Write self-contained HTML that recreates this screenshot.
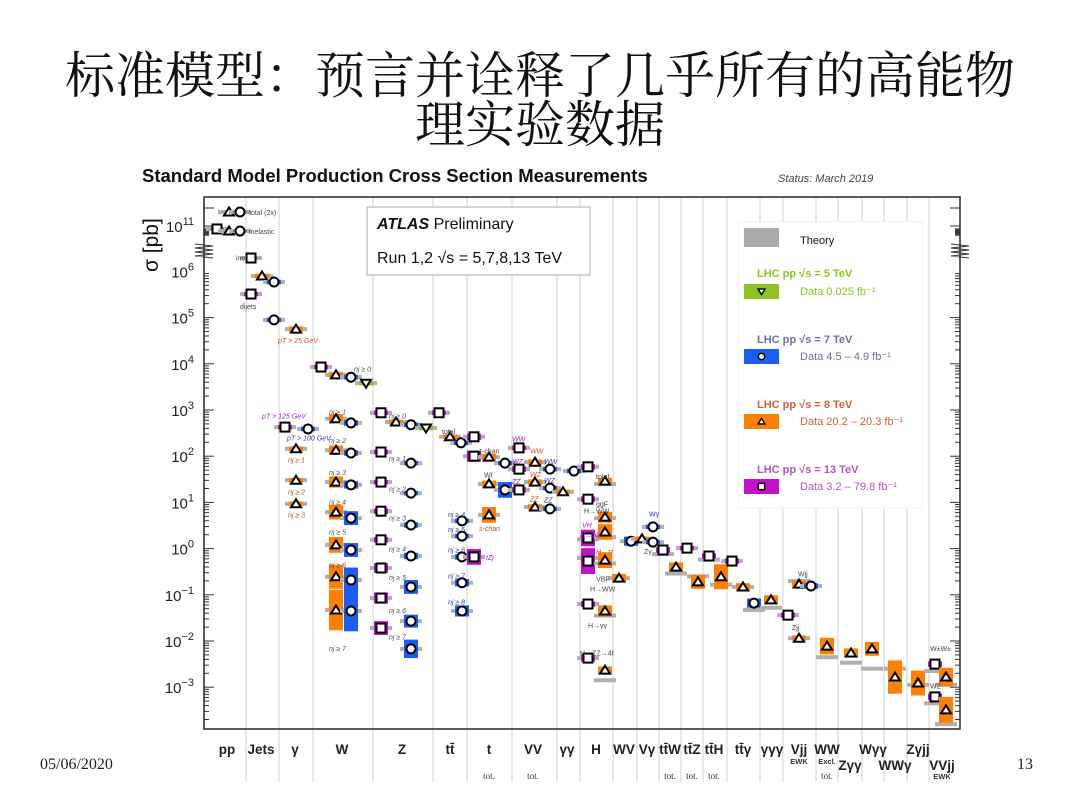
<!DOCTYPE html>
<html><head><meta charset="utf-8">
<style>
body{margin:0;background:#fff;}
#wrap{position:relative;width:1080px;height:803px;overflow:hidden;background:#fff;}
.title{position:absolute;left:0;width:1080px;text-align:center;font-family:"Liberation Serif","Noto Serif CJK SC",serif;font-size:50px;color:#111;line-height:52px;}
.foot{position:absolute;font-family:"Liberation Serif",serif;font-size:16px;color:#222;}
</style></head>
<body><div id="wrap">
<div class="title" style="top:50px">标准模型：预言并诠释了几乎所有的高能物</div>
<div class="title" style="top:99px">理实验数据</div>
<div class="foot" style="left:40px;top:756px">05/06/2020</div>
<div class="foot" style="left:1017px;top:756px">13</div>
<svg id="chart" width="1080" height="803" style="position:absolute;left:0;top:0" font-family="Liberation Sans, sans-serif"></svg>
</div>
<script>
// categories and boundaries (x in axis units = px from left axis)
const catNames=["pp","Jets","γ","W","Z","tt̄","t","VV","γγ","H","WV","Vγ","tt̄W","tt̄Z","tt̄H","tt̄γ","γγγ","Vjj","WW","Zγγ","Wγγ","WWγ","Zγjj","VVjj"];
const catLabelX=[23,57,91,138,198,246,285,329,363,392,420,443,466,488,510,539,568,595,623,646,669,691,714,738];
const catLabelRow=[0,0,0,0,0,0,0,0,0,0,0,0,0,0,0,0,0,0,0,1,0,1,0,1];
const catSub=["","","","","","","tot.","tot.","","","","","tot.","tot.","tot.","","","EWK","Excl.","","","","","EWK"];
const catBounds=[42,75,109,169,229,263,308,353,376,409,433,455,477,499,523,556,579,612,634,658,680,703,725];
const yTicks=[-3,-2,-1,0,1,2,3,4,5,6,11];
// points: [x, log10 sigma, type (v=5,c=7,t=8,s=13 TeV), err (log), theory (log)]
const points=[
[13,10.67,'s',0.05,10.67],[25,10.44,'t',0.05,10.44],[36,10.44,'c',0.05,10.44],[25,12.56,'t',0.05,12.56],[36,12.56,'c',0.05,12.56],
[47,7.44,'s',0.05,7.44],[58,5.90,'t',0.05,5.90],[70,5.77,'c',0.05,5.77],[47,5.51,'s',0.05,5.51],[70,4.95,'c',0.05,4.95],
[92,4.75,'t',0.06,4.75],[81,2.63,'s',0.05,2.63],[104,2.59,'c',0.05,2.59],[92,2.16,'t',0.05,2.16],[92,1.48,'t',0.05,1.48],[92,0.97,'t',0.05,0.97],
[117,3.93,'s',0.05,3.93],[132,3.76,'t',0.06,3.76],[147,3.71,'c',0.05,3.71],[162,3.58,'v',0.05,3.58],
[132,2.81,'t',0.1,2.81],[147,2.72,'c',0.06,2.72],[132,2.13,'t',0.1,2.13],[147,2.07,'c',0.06,2.07],
[132,1.44,'t',0.12,1.44],[147,1.38,'c',0.08,1.38],[132,0.79,'t',0.16,0.79],[147,0.66,'c',0.15,0.66],
[132,0.08,'t',0.17,0.08],[147,-0.03,'c',0.15,-0.03],[132,-0.61,'t',0.26,-0.61],[147,-0.68,'c',0.27,-0.68],
[132,-1.33,'t',0.44,-1.33],[147,-1.35,'c',0.44,-1.35],
[177,2.94,'s',0.05,2.94],[192,2.74,'t',0.05,2.74],[207,2.68,'c',0.05,2.68],[222,2.61,'v',0.05,2.61],
[177,2.09,'s',0.05,2.09],[207,1.85,'c',0.05,1.85],[177,1.44,'s',0.05,1.44],[207,1.20,'c',0.05,1.20],
[177,0.81,'s',0.06,0.81],[207,0.51,'c',0.06,0.51],[177,0.19,'s',0.06,0.19],[207,-0.16,'c',0.07,-0.16],
[177,-0.42,'s',0.1,-0.42],[207,-0.83,'c',0.15,-0.83],[177,-1.07,'s',0.12,-1.07],[207,-1.57,'c',0.14,-1.57],
[177,-1.72,'s',0.15,-1.72],[207,-2.17,'c',0.2,-2.17],
[235,2.94,'s',0.05,2.94],[246,2.42,'t',0.05,2.42],[257,2.29,'c',0.05,2.29],
[258,0.60,'c',0.05,0.60],[258,0.27,'c',0.05,0.27],[258,-0.18,'c',0.06,-0.18],[258,-0.74,'c',0.08,-0.74],[258,-1.35,'c',0.12,-1.35],
[270,2.42,'s',0.07,2.42],[270,2.00,'s',0.12,2.00],[285,1.98,'t',0.07,1.98],[301,1.85,'c',0.05,1.85],
[285,1.40,'t',0.07,1.40],[301,1.27,'c',0.17,1.27],[285,0.73,'t',0.17,0.73],[270,-0.18,'s',0.17,-0.18],
[315,2.18,'s',0.05,2.18],[315,1.72,'s',0.06,1.72],[315,1.27,'s',0.06,1.27],
[331,1.87,'t',0.06,1.87],[346,1.72,'c',0.05,1.72],[331,1.44,'t',0.06,1.44],[346,1.31,'c',0.05,1.31],[331,0.90,'t',0.06,0.90],[346,0.86,'c',0.05,0.86],
[359,1.23,'t',0.05,1.23],[370,1.68,'c',0.05,1.68],
[384,1.77,'s',0.06,1.77],[384,1.07,'s',0.06,1.07],[384,0.23,'s',0.18,0.20],[384,-0.27,'s',0.28,-0.20],[384,-1.20,'s',0.06,-1.20],[384,-2.37,'s',0.08,-2.37],
[401,1.46,'t',0.07,1.40],[401,0.68,'t',0.12,0.66],[401,0.36,'t',0.17,0.25],[401,-0.25,'t',0.17,-0.32],[401,-1.35,'t',0.12,-1.45],[401,-2.63,'t',0.08,-2.85],[415,-0.64,'t',0.09,-0.64],
[427,0.16,'c',0.1,0.16],[438,0.21,'t',0.05,0.21],[449,0.47,'c',0.05,0.47],[449,0.14,'c',0.05,0.14],
[459,-0.03,'s',0.06,-0.12],[472,-0.40,'t',0.1,-0.54],
[483,0.01,'s',0.05,0.01],[494,-0.72,'t',0.15,-0.60],
[505,-0.16,'s',0.06,-0.24],[517,-0.61,'t',0.27,-0.78],
[528,-0.27,'s',0.06,-0.27],[539,-0.83,'t',0.08,-0.83],
[550,-1.18,'c',0.1,-1.33],[567,-1.11,'t',0.1,-1.28],
[584,-1.44,'s',0.06,-1.44],[595,-1.94,'t',0.06,-1.94],[595,-0.77,'t',0.08,-0.70],[607,-0.81,'c',0.06,-0.81],
[623,-2.11,'t',0.18,-2.35],[647,-2.26,'t',0.1,-2.47],[668,-2.17,'t',0.15,-2.60],
[691,-2.78,'t',0.36,-2.60],[714,-2.91,'t',0.27,-2.95],
[731,-2.50,'s',0.06,-2.65],[731,-3.21,'s',0.07,-3.35],[742,-2.78,'t',0.2,-2.95],[742,-3.49,'t',0.28,-3.80]
];
// annotation labels [x, log10 position, text, color]
const notes=[
[45,12.56,'total (2x)','#444'],[45,10.44,'inelastic','#444'],[32,6.3,'incl','#444'],[36,5.25,'dijets','#444'],
[74,4.52,'pT > 25 GeV','#d24a2a'],[58,2.88,'pT > 125 GeV','#a020c0'],[83,2.40,'pT > 100 GeV','#3a3aa0'],
[84,1.93,'nj ≥ 1','#d24a2a'],[84,1.24,'nj ≥ 2','#d24a2a'],[84,0.74,'nj ≥ 3','#d24a2a'],
[150,3.90,'nj ≥ 0','#555'],[125,2.97,'nj ≥ 1','#555'],[125,2.35,'nj ≥ 2','#555'],[125,1.66,'nj ≥ 3','#555'],[125,1.02,'nj ≥ 4','#555'],[125,0.37,'nj ≥ 5','#555'],[125,-0.34,'nj ≥ 6','#555'],[125,-2.15,'nj ≥ 7','#555'],
[185,2.88,'nj ≥ 0','#555'],[185,1.96,'nj ≥ 1','#555'],[185,1.30,'nj ≥ 2','#555'],[185,0.67,'nj ≥ 3','#555'],[185,0.0,'nj ≥ 4','#555'],[185,-0.62,'nj ≥ 5','#555'],[185,-1.33,'nj ≥ 6','#555'],[185,-1.90,'nj ≥ 7','#555'],
[238,2.55,'total','#444'],[244,0.75,'nj ≥ 4','#3a3aa0'],[244,0.42,'nj ≥ 5','#3a3aa0'],[244,-0.02,'nj ≥ 6','#3a3aa0'],[244,-0.58,'nj ≥ 7','#3a3aa0'],[244,-1.15,'nj ≥ 8','#3a3aa0'],
[276,2.12,'t-chan','#444'],[280,1.60,'Wt','#444'],[275,0.45,'s-chan','#d24a2a'],[282,-0.18,'tZj','#a020c0'],
[308,2.38,'WW','#a020c0'],[308,1.90,'WZ','#a020c0'],[308,1.46,'ZZ','#a020c0'],[326,2.12,'WW','#d24a2a'],[326,1.62,'WZ','#d24a2a'],[326,1.08,'ZZ','#d24a2a'],[340,1.90,'WW','#3a3aa0'],[340,1.48,'WZ','#3a3aa0'],[340,1.06,'ZZ','#3a3aa0'],
[392,1.57,'total','#444'],[392,0.98,'ggF','#444'],[380,0.82,'H→WW','#444'],[378,0.52,'VH','#a020c0'],[376,0.31,'H→bb','#a020c0'],[392,-0.05,'H→ττ','#d24a2a'],[392,-0.65,'VBF','#444'],[386,-0.86,'H→WW','#444'],[384,-1.65,'H→γγ','#444'],[376,-2.25,'H→ZZ→4ℓ','#444'],
[445,0.76,'Wγ','#3a3aa0'],[440,-0.05,'Zγ','#444'],[594,-0.54,'Wjj','#444'],[588,-1.70,'Zjj','#444'],[726,-2.15,'W±W±','#444'],[726,-2.96,'WZ','#444']
];
const NS='http://www.w3.org/2000/svg';
const svg=document.getElementById('chart');
const L=204,R=960,T=197,B=729;
function xS(u){return L+u;}
function yS(lg){return lg>6.3? 271-(lg-6)*9 : 410-46.2*(lg-3);}
function mk(tag,attrs,parent){const e=document.createElementNS(NS,tag);for(const k in attrs)e.setAttribute(k,attrs[k]);(parent||svg).appendChild(e);return e;}
function txt(x,y,s,attrs){const e=mk('text',Object.assign({x:x,y:y},attrs||{}));e.textContent=s;return e;}

let t;
t=txt(142,182,'Standard Model Production Cross Section Measurements',{'font-size':18.5,'font-weight':'bold',fill:'#111'});

t=txt(778,182,'Status: March 2019',{'font-size':11,'font-style':'italic',fill:'#444'});


catBounds.forEach(b=>{const l=mk('line',{x1:xS(b),x2:xS(b),y1:T,y2:782,stroke:'#d8d8d8','stroke-width':1.2});
});
const fr=mk('rect',{x:L,y:T,width:R-L,height:B-T,fill:'none',stroke:'#333','stroke-width':1.6});

const tg=mk('g',{stroke:'#333','stroke-width':1});

for(let d=-4;d<6;d++){for(let m=1;m<10;m++){const y=yS(d+Math.log10(m));if(y<T||y>B)continue;const len=m===1?10:5;
mk('line',{x1:L,x2:L+len,y1:y,y2:y},tg);mk('line',{x1:R,x2:R-len,y1:y,y2:y},tg);}}
[208,226].forEach(y=>{mk('line',{x1:L,x2:L+10,y1:y,y2:y},tg);mk('line',{x1:R,x2:R-10,y1:y,y2:y},tg);});
for(let m=2;m<10;m++){const y=226+9-9*Math.log10(m)*0-m*0.9;mk('line',{x1:L,x2:L+5,y1:y+2,y2:y+2},tg);mk('line',{x1:R,x2:R-5,y1:y+2,y2:y+2},tg);}
[L,R].forEach(x=>{const p=mk('path',{d:`M${x-9},244 l18,2 l-18,2 l18,2 l-18,2 l18,2 l-18,2 l18,2`,fill:'none',stroke:'#333','stroke-width':1});
});
yTicks.forEach(d=>{const y=yS(d)+6;const g=mk('text',{x:L-10,y:y,'text-anchor':'end','font-size':15,fill:'#222'});

g.textContent='10';const s=mk('tspan',{dy:-7,'font-size':11},g);s.textContent=String(d).replace('-','−');});
t=txt(0,0,'σ [pb]',{'font-size':21,fill:'#111',transform:'translate(158,272) rotate(-90)'});


catNames.forEach((n,i)=>{const y=catLabelRow[i]?770:754;const e=txt(xS(catLabelX[i]),y,n,{'text-anchor':'middle','font-size':13.5,'font-weight':'bold',fill:'#222'});

if(catSub[i]){const ew=catSub[i]==='EWK'||catSub[i]==='Excl.';const s=txt(xS(catLabelX[i]),catLabelRow[i]?779:(ew?764:779),catSub[i],{'text-anchor':'middle','font-size':ew?7.5:9,'font-weight':ew?'bold':'normal','font-family':ew?'Liberation Sans, sans-serif':'Liberation Serif, serif',fill:'#333'});
}});
t=txt(xS(623),779,'tot.',{'text-anchor':'middle','font-size':9,'font-family':'Liberation Serif, serif',fill:'#333'});


const bandCol={v:'#8fc31f',c:'#1b5ef5',t:'#ff8000',s:'#c012c8'};
function marker(type,x,y,parent){
 if(type==='s')return mk('rect',{x:x-4.5,y:y-4.5,width:9,height:9,fill:'#fff',stroke:'#000','stroke-width':2},parent);
 if(type==='c')return mk('circle',{cx:x,cy:y,r:4.5,fill:'#fff',stroke:'#000','stroke-width':2},parent);
 if(type==='t')return mk('path',{d:`M${x},${y-4.5} L${x+5},${y+3.5} L${x-5},${y+3.5} Z`,fill:'#fff',stroke:'#000','stroke-width':2},parent);
 return mk('path',{d:`M${x},${y+4.5} L${x+5},${y-3.5} L${x-5},${y-3.5} Z`,fill:'#fff',stroke:'#000','stroke-width':2},parent);
}
points.forEach(p=>{const [u,v,ty,er,th]=p;const x=xS(u);const y=yS(v);
 const g=mk('g',{});
 
 
 const yt=yS(th);mk('rect',{x:x-11,y:yt-2,width:22,height:4,fill:'#b0b0b0'},g);
 const h=Math.abs(yS(v-er)-yS(v+er));mk('rect',{x:x-7,y:y-h/2,width:14,height:h,fill:bandCol[ty]},g);
 marker(ty,x,y,g);
});
notes.forEach(n=>{const e=txt(xS(n[0]),yS(n[1])+3,n[2],{'font-size':7,fill:n[3],'font-style':/[A-Za-z]{2}|nj|pT|→/.test(n[2])&&n[3]!=='#444'?'italic':'normal'});
});

const ab=mk('g',{});
mk('rect',{x:367,y:207,width:223,height:68,fill:'#fff',stroke:'#bbb','stroke-width':1.2},ab);
let a=mk('text',{x:377,y:229,'font-size':16,fill:'#111'},ab);a.innerHTML='<tspan font-weight="bold" font-style="italic">ATLAS</tspan>  Preliminary';
a=mk('text',{x:377,y:263,'font-size':16,fill:'#111'},ab);a.textContent='Run 1,2  √s = 5,7,8,13 TeV';

const lg=mk('g',{});
mk('rect',{x:738,y:222,width:184,height:286,fill:'#fff',stroke:'#f2f2f2'},lg);
mk('rect',{x:744,y:228,width:35,height:19,fill:'#aaa'},lg);
txt(800,244,'Theory',{'font-size':11,fill:'#111'});
const legE=[['v','#8fc31f','LHC pp  √s = 5 TeV','Data  0.025 fb⁻¹',273,291],['c','#6d6db0','LHC pp  √s = 7 TeV','Data  4.5 – 4.9 fb⁻¹',339,356],['t','#d2603a','LHC pp  √s = 8 TeV','Data  20.2 – 20.3 fb⁻¹',404,421],['s','#b055c0','LHC pp  √s = 13 TeV','Data  3.2 – 79.8 fb⁻¹',469,486]];
legE.forEach(e=>{const g=mk('g',{},lg);
 const h=mk('text',{x:757,y:e[4]+4,'font-size':11,'font-weight':'bold',fill:e[1]},g);h.textContent=e[2];
 mk('rect',{x:744,y:e[5]-7,width:35,height:15,fill:bandCol[e[0]]},g);
 const m=marker(e[0],761.5,e[5]+0.5,g);m.setAttribute('transform',`translate(${761.5*0.3},${(e[5]+0.5)*0.3}) scale(0.7)`);
 const d=mk('text',{x:800,y:e[5]+4,'font-size':11,fill:e[1]},g);d.textContent=e[3];
});
</script>
</body></html>
